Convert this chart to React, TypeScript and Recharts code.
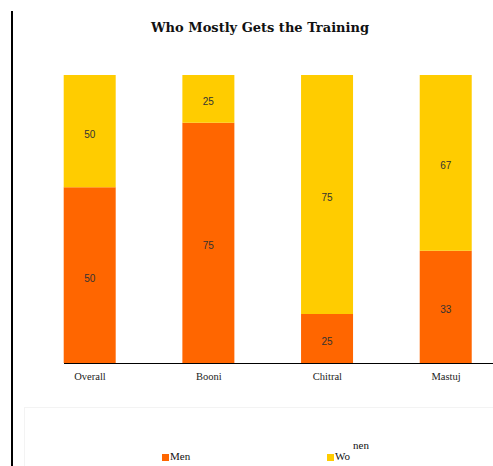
import React from 'react';
import { BarChart, Bar, XAxis, YAxis, LabelList } from 'recharts';

const categories = ['Overall', 'Booni', 'Chitral', 'Mastuj'];
// bar heights as drawn in the picture (percent of full bar)
const menValues = [61, 83.4, 17, 39];
const womenValues = [39, 16.6, 83, 61];
// printed data labels
const menLabels = ['50', '75', '25', '33'];
const womenLabels = ['50', '25', '75', '67'];

const data = categories.map((c, i) => ({
  category: c,
  men: menValues[i],
  women: womenValues[i],
  menLabel: menLabels[i],
  womenLabel: womenLabels[i],
}));

const MEN = '#FF6600';
const WOMEN = '#FFCC00';
const SERIF = '"Liberation Serif", "DejaVu Serif", serif';
const SANS = '"Liberation Sans", sans-serif';

export default function App() {
  return (
    <div style={{ position: 'fixed', left: 0, top: 0, width: 493, height: 466, overflow: 'hidden', background: '#fff' }}>
      <div style={{ position: 'absolute', left: 11, top: 11, width: 2, height: 460, background: '#000' }} />
      <div style={{ position: 'absolute', left: 151, top: 20, fontFamily: '"DejaVu Serif", serif', fontWeight: 'bold', fontSize: 13, color: '#111', whiteSpace: 'nowrap' }}>
        Who Mostly Gets the Training
      </div>
      <div style={{ position: 'absolute', left: 0, top: 0 }}>
        <BarChart width={540} height={466} data={data} margin={{ top: 75, right: 34.6, left: 30.7, bottom: 73 }}>
          <YAxis hide domain={[0, 100]} />
          <XAxis
            dataKey="category"
            axisLine={false}
            tickLine={false}
            tickMargin={4}
            tick={{ fontSize: 10.5, fill: '#222', fontFamily: SERIF }}
          />
          <Bar dataKey="men" stackId="a" fill={MEN} barSize={52} isAnimationActive={false}>
            <LabelList dataKey="menLabel" position="center" fill="#333" fontSize={10} fontFamily={SANS} dy={3} />
          </Bar>
          <Bar dataKey="women" stackId="a" fill={WOMEN} barSize={52} isAnimationActive={false}>
            <LabelList dataKey="womenLabel" position="center" fill="#333" fontSize={10} fontFamily={SANS} dy={3} />
          </Bar>
        </BarChart>
      </div>
      <div style={{ position: 'absolute', left: 64, top: 362.5, width: 440, height: 1.5, background: '#000' }} />
      <div style={{ position: 'absolute', left: 24, top: 407, width: 480, height: 70, border: '1px solid #f3f3f3' }} />
      <div style={{ position: 'absolute', left: 161.5, top: 454, width: 7, height: 7, background: MEN }} />
      <div style={{ position: 'absolute', left: 170, top: 450, fontFamily: SERIF, fontSize: 11, color: '#111' }}>Men</div>
      <div style={{ position: 'absolute', left: 326.5, top: 454, width: 7, height: 7, background: WOMEN }} />
      <div style={{ position: 'absolute', left: 335, top: 450, fontFamily: SERIF, fontSize: 11, color: '#111' }}>Wo</div>
      <div style={{ position: 'absolute', left: 353, top: 439, fontFamily: SERIF, fontSize: 11, color: '#111' }}>nen</div>
    </div>
  );
}
